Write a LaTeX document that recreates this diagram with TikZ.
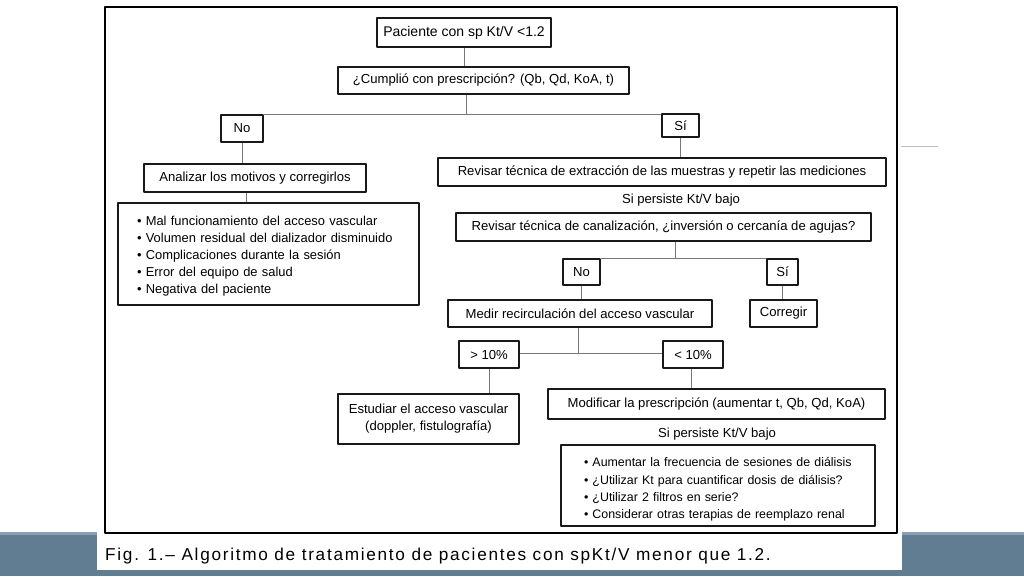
\documentclass[tikz,border=0pt]{standalone}
\usepackage{fontspec}
\setmainfont{Liberation Sans}
\definecolor{bandblue}{RGB}{97,125,146}
\definecolor{bandlight}{RGB}{138,159,177}
\definecolor{linkgray}{RGB}{120,120,120}
\tikzset{
  box/.style={draw=black!90,line width=1.1pt,inner sep=0pt,align=center,font=\fontsize{13.1}{16}\selectfont},
  listbox/.style={draw=black!90,line width=1.1pt,inner ysep=0pt,align=left},
  link/.style={draw=linkgray,line width=0.8pt},
  note/.style={font=\fontsize{13.1}{15}\selectfont}
}
\begin{document}
\begin{tikzpicture}[x=1pt,y=-1pt,line join=round]
\useasboundingbox (0,0) rectangle (1024,576);
% fondo inferior y marco
\fill[bandblue] (0,532) rectangle (1024,576);
\fill[bandlight] (0,532) rectangle (1024,535);
\fill[white] (97,532) rectangle (902,570);
\draw[line width=1.3pt] (105,7) rectangle (897,533);
\draw[black!25,line width=1pt] (901,146) -- (938,146);

% nodos
\node[box,minimum width=174,minimum height=29,font=\fontsize{14}{16}\selectfont] (pac) at (464,32.5) {Paciente con sp Kt/V <1.2};
\node[box,minimum width=291,minimum height=27] (cumple) at (483.5,80.5) {¿Cumplió con prescripción? (Qb, Qd, KoA, t)};
\node[box,minimum width=42,minimum height=27] (no1) at (242,128.5) {No};
\node[box,minimum width=37,minimum height=23] (si1) at (680.5,125.5) {Sí};
\node[box,minimum width=222,minimum height=28] (analiza) at (255,178) {Analizar los motivos y corregirlos};
\node[box,minimum width=448,minimum height=28] (revisa1) at (662,172) {Revisar técnica de extracción de las muestras y repetir las mediciones};
\node[note] (persiste1) at (681,200.5) {Si persiste Kt/V bajo};
\node[listbox,inner xsep=19,text width=263,minimum height=102,font=\fontsize{12.9}{17.2}\selectfont] (lista1) at (268.5,254) {%
\rule{0pt}{13.5pt}• Mal funcionamiento del acceso vascular\\
• Volumen residual del dializador disminuido\\
• Complicaciones durante la sesión\\
• Error del equipo de salud\\
• Negativa del paciente};
\node[box,minimum width=415,minimum height=28] (revisa2) at (663.5,227) {Revisar técnica de canalización, ¿inversión o cercanía de agujas?};
\node[box,minimum width=37,minimum height=26] (no2) at (581.5,272) {No};
\node[box,minimum width=31,minimum height=26] (si2) at (782.5,272) {Sí};
\node[box,minimum width=264,minimum height=27] (medir) at (580,313.5) {Medir recirculación del acceso vascular};
\node[box,minimum width=67,minimum height=27] (corregir) at (783.5,313.5) {Corregir};
\node[box,minimum width=60,minimum height=27] (mayor) at (489,354.5) {> 10\%};
\node[box,minimum width=60,minimum height=27] (menor) at (693,354.5) {< 10\%};
\node[box,minimum width=181,minimum height=50,font=\fontsize{13.1}{17}\selectfont] (estudia) at (428.5,419) {Estudiar el acceso vascular\\(doppler, fistulografía)};
\node[box,minimum width=337,minimum height=30] (modifica) at (716.5,404) {Modificar la prescripción (aumentar t, Qb, Qd, KoA)};
\node[note] (persiste2) at (717,434) {Si persiste Kt/V bajo};
\node[listbox,inner xsep=23,text width=268,minimum height=81,font=\fontsize{12.4}{17.3}\selectfont] (lista2) at (718,485.5) {%
\rule{0pt}{17pt}• Aumentar la frecuencia de sesiones de diálisis\\
• ¿Utilizar Kt para cuantificar dosis de diálisis?\\
• ¿Utilizar 2 filtros en serie?\\
• Considerar otras terapias de reemplazo renal};

% conectores
\coordinate (bus1) at (466,115);
\coordinate (bus2) at (675,259);
\coordinate (bus3) at (578,353);
\draw[link] (pac.south) -- (pac.south |- cumple.north);
\draw[link] (bus1 |- cumple.south) -- (bus1);
\draw[link] (no1.north east) -- (no1.north east -| si1.west);
\draw[link] (no1.south) -- (no1.south |- analiza.north);
\draw[link] (si1.south) -- (si1.south |- revisa1.north);
\draw[link] ([xshift=-9pt]analiza.south) -- ([xshift=-9pt]analiza.south |- lista1.north);
\draw[link] (bus2 |- revisa2.south) -- (bus2);
\draw[link] (no2.north east) -- (si2.north west);
\draw[link] (no2.south) -- (no2.south |- medir.north);
\draw[link] (si2.south) -- (si2.south |- corregir.north);
\draw[link] (bus3 |- medir.south) -- (bus3);
\draw[link] (mayor.east |- bus3) -- (menor.west |- bus3);
\draw[link] (mayor.south) -- (mayor.south |- estudia.north);
\draw[link] ([xshift=-2pt]menor.south) -- ([xshift=-2pt]menor.south |- modifica.north);

% leyenda
\node[anchor=base west,inner sep=0pt,font=\fontsize{17.2}{19}\selectfont\addfontfeature{LetterSpace=10}] (leyenda) at (105,560) {Fig. 1.– Algoritmo de tratamiento de pacientes con spKt/V menor que 1.2.};
\end{tikzpicture}
\end{document}
